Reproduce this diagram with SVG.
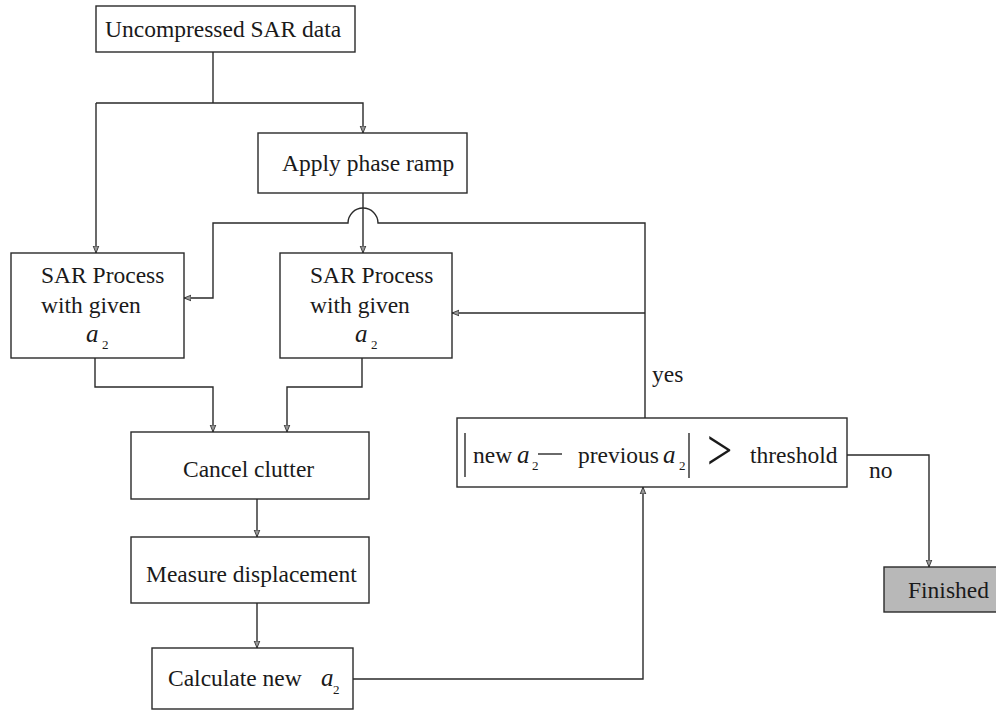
<svg xmlns="http://www.w3.org/2000/svg" width="996" height="711" viewBox="0 0 996 711">
<defs>
<style>
.box{fill:#fff;stroke:#2a2a2a;stroke-width:1.4}
.fin{fill:#b8b8b8;stroke:#2a2a2a;stroke-width:1.4}
.t{font-family:"Liberation Serif","Times New Roman",serif;font-size:23.5px;fill:#1a1a1a}
.i{font-family:"Liberation Serif","Times New Roman",serif;font-size:25px;font-style:italic;fill:#1a1a1a}
.s{font-family:"Liberation Serif","Times New Roman",serif;font-size:13px;fill:#1a1a1a}
.c{fill:none;stroke:#2a2a2a;stroke-width:1.4}
</style>
<marker id="ah" viewBox="0 0 10 10" refX="10" refY="5" markerWidth="7" markerHeight="9" orient="auto" markerUnits="userSpaceOnUse">
<path d="M0,1 L10,5 L0,9 Z" fill="#999" stroke="#2a2a2a" stroke-width="1.2"/>
</marker>
</defs>
<rect width="996" height="711" fill="#fff"/>

<g id="connectors">
<path class="c" d="M213,52 V103"/>
<path class="c" d="M96,103 H363 V133" marker-end="url(#ah)"/>
<path class="c" d="M96,103 V253" marker-end="url(#ah)"/>
<path class="c" d="M363,193 V253" marker-end="url(#ah)"/>
<path class="c" d="M645,418 V223 H378 A15,15 0 0 0 348,223 H213 V298 H184" marker-end="url(#ah)"/>
<path class="c" d="M645,313 H452" marker-end="url(#ah)"/>
<path class="c" d="M95,358 V387 H213 V432" marker-end="url(#ah)"/>
<path class="c" d="M362,358 V387 H287 V432" marker-end="url(#ah)"/>
<path class="c" d="M257,499 V537" marker-end="url(#ah)"/>
<path class="c" d="M257,603 V648" marker-end="url(#ah)"/>
<path class="c" d="M353,679 H643 V487" marker-end="url(#ah)"/>
<path class="c" d="M847,455 H929 V567" marker-end="url(#ah)"/>
<text class="t" x="652" y="382">yes</text>
<text class="t" x="869" y="478">no</text>
</g>

<g id="uncompressed">
<rect class="box" x="96" y="6" width="259" height="46"/>
<text class="t" x="105" y="37">Uncompressed SAR data</text>
</g>

<g id="phase-ramp">
<rect class="box" x="258" y="133" width="209" height="60"/>
<text class="t" x="282" y="171">Apply phase ramp</text>
</g>

<g id="sar-process-1">
<rect class="box" x="11" y="253" width="173" height="105"/>
<text class="t" x="41" y="283">SAR Process</text>
<text class="t" x="41" y="313">with given</text>
<text class="i" x="86" y="342">a</text>
<text class="s" x="102" y="349">2</text>
</g>

<g id="sar-process-2">
<rect class="box" x="280" y="253" width="172" height="105"/>
<text class="t" x="310" y="283">SAR Process</text>
<text class="t" x="310" y="313">with given</text>
<text class="i" x="355" y="342">a</text>
<text class="s" x="371" y="349">2</text>
</g>

<g id="cancel-clutter">
<rect class="box" x="131" y="432" width="238" height="67"/>
<text class="t" x="183" y="477">Cancel clutter</text>
</g>

<g id="measure">
<rect class="box" x="131" y="537" width="238" height="66"/>
<text class="t" x="146" y="582">Measure displacement</text>
</g>

<g id="calculate">
<rect class="box" x="152" y="648" width="201" height="61"/>
<text class="t" x="168" y="686">Calculate new</text>
<text class="i" x="321" y="686">a</text>
<text class="s" x="333" y="694">2</text>
</g>

<g id="decision">
<rect class="box" x="457" y="418" width="390" height="69"/>
<line class="c" x1="465" y1="433" x2="465" y2="477"/>
<text class="t" x="473" y="463">new</text>
<text class="i" x="517" y="463">a</text>
<text class="s" x="532" y="470">2</text>
<line class="c" x1="538" y1="454" x2="562" y2="454"/>
<text class="t" x="578" y="463">previous</text>
<text class="i" x="663" y="463">a</text>
<text class="s" x="679" y="470">2</text>
<line class="c" x1="689" y1="433" x2="689" y2="478"/>
<text class="t" transform="translate(707,470) scale(1,1.3)" style="font-size:45px">&gt;</text>
<text class="t" x="750" y="463">threshold</text>
</g>

<g id="finished">
<rect class="fin" x="884" y="567" width="120" height="45"/>
<text class="t" x="908" y="598">Finished</text>
</g>
</svg>
